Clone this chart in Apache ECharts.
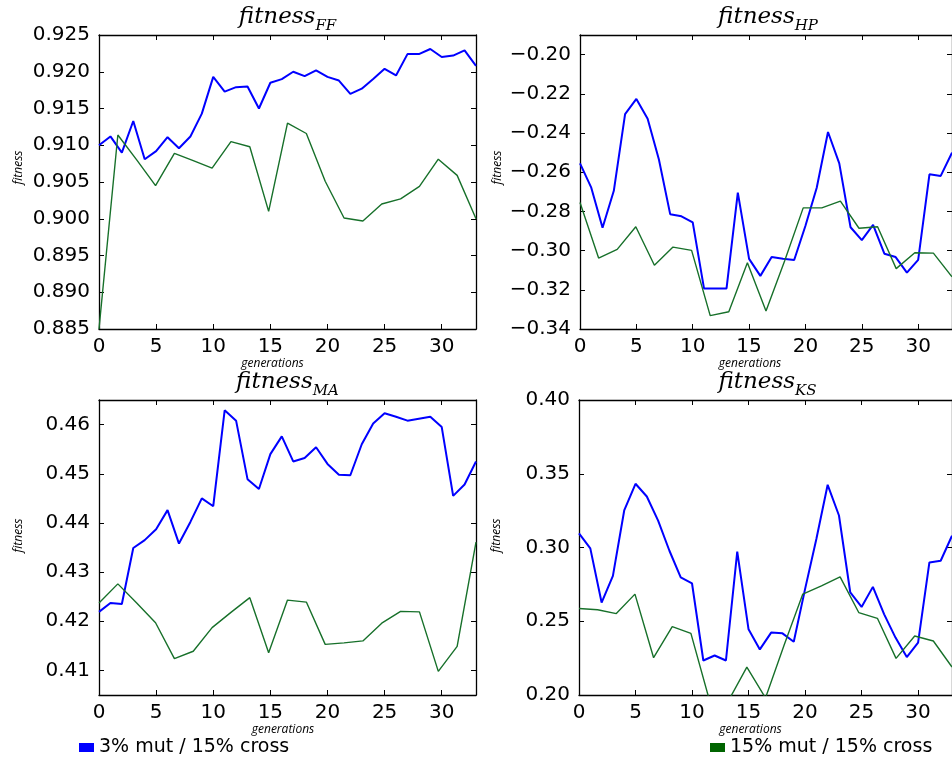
<!DOCTYPE html>
<html>
<head>
<meta charset="utf-8">
<script src="https://cdn.jsdelivr.net/npm/echarts@6/dist/echarts.min.js"></script>
<style>
html, body { margin: 0; padding: 0; background: #fff; }
#chart { width: 952px; height: 762px; }
</style>
</head>
<body>
<div id="chart"></div>
<script>
// generations where each run was sampled
var blueGens = [0, 1, 2, 3, 4, 5, 6, 7, 8, 9, 10, 11, 12, 13, 14, 15, 16, 17, 18, 19, 20, 21, 22, 23, 24, 25, 26, 27, 28, 29, 30, 31, 32, 33];
var greenGens = [0, 1.65, 3.3, 4.95, 6.6, 8.25, 9.9, 11.55, 13.2, 14.85, 16.5, 18.15, 19.8, 21.45, 23.1, 24.75, 26.4, 28.05, 29.7, 31.35, 33];

var blueName = '3% mut / 15% cross';
var greenName = '15% mut / 15% cross';

// fitness_FF
var ffBlue = [0.9100, 0.9112, 0.9090, 0.9133, 0.9081, 0.9092, 0.9111, 0.9096, 0.9112, 0.9143, 0.9193, 0.9173, 0.9179, 0.9180, 0.9150, 0.9185, 0.9190, 0.9200, 0.9194, 0.9202, 0.9193, 0.9188, 0.9170, 0.9177, 0.9190, 0.9204, 0.9195, 0.9224, 0.9224, 0.9231, 0.9220, 0.9222, 0.9229, 0.9208];
var ffGreen = [0.8850, 0.9114, 0.9080, 0.9045, 0.9089, 0.9079, 0.9069, 0.9105, 0.9098, 0.9010, 0.9130, 0.9116, 0.9051, 0.9001, 0.8997, 0.9020, 0.9027, 0.9044, 0.9081, 0.9059, 0.9000];

// fitness_HP
var hpBlue = [-0.2555, -0.2679, -0.2883, -0.2695, -0.2304, -0.2226, -0.2327, -0.2535, -0.2814, -0.2825, -0.2856, -0.3193, -0.3193, -0.3193, -0.2704, -0.3042, -0.3129, -0.3033, -0.3042, -0.3048, -0.2873, -0.2679, -0.2395, -0.2555, -0.2881, -0.2947, -0.2869, -0.3016, -0.3033, -0.3112, -0.3047, -0.2611, -0.2619, -0.2500];
var hpGreen = [-0.2755, -0.3038, -0.2994, -0.2878, -0.3075, -0.2982, -0.2999, -0.3332, -0.3312, -0.3062, -0.3308, -0.3053, -0.2782, -0.2782, -0.2748, -0.2886, -0.2878, -0.3092, -0.3011, -0.3013, -0.3134];

// fitness_MA
var maBlue = [0.4219, 0.4237, 0.4235, 0.4349, 0.4365, 0.4387, 0.4426, 0.4358, 0.4402, 0.4450, 0.4434, 0.4629, 0.4608, 0.4489, 0.4469, 0.4540, 0.4576, 0.4525, 0.4532, 0.4554, 0.4520, 0.4498, 0.4497, 0.4560, 0.4602, 0.4623, 0.4616, 0.4608, 0.4612, 0.4616, 0.4595, 0.4455, 0.4478, 0.4525];
var maGreen = [0.4237, 0.4276, 0.4237, 0.4197, 0.4124, 0.4139, 0.4187, 0.4218, 0.4248, 0.4136, 0.4243, 0.4239, 0.4153, 0.4156, 0.4160, 0.4196, 0.4220, 0.4219, 0.4098, 0.4149, 0.4361];

// fitness_KS
var ksBlue = [0.3096, 0.2994, 0.2627, 0.2808, 0.3251, 0.3432, 0.3346, 0.3182, 0.2978, 0.2797, 0.2756, 0.2234, 0.2268, 0.2234, 0.2972, 0.2445, 0.2309, 0.2423, 0.2418, 0.2361, 0.2718, 0.3058, 0.3425, 0.3217, 0.2695, 0.2597, 0.2733, 0.2547, 0.2389, 0.2257, 0.2355, 0.2899, 0.2910, 0.3080];
var ksGreen = [0.2586, 0.2578, 0.2552, 0.2684, 0.2253, 0.2464, 0.2418, 0.1962, 0.1958, 0.2189, 0.1980, 0.2339, 0.2684, 0.2740, 0.2801, 0.2559, 0.2520, 0.2248, 0.2400, 0.2366, 0.2190];

var xTicks = { min: 0, max: 33, interval: 5 };

var minus = function(v, d) {
    return (v < 0 ? '\u2212' : '') + Math.abs(v).toFixed(d);
};

var panels = [
    { sub: 'FF', blue: ffBlue, green: ffGreen, grid: { left: 99, top: 35, width: 377, height: 294 },
      yMin: 0.885, yMax: 0.925, yInterval: 0.005, digits: 3, titleX: 287.5, titleTop: 6,
      xNamePad: [0, 30, 0, 0], yNamePad: [0, 0, 0, 29], yNameGap: 74, hideMax: false },
    { sub: 'HP', blue: hpBlue, green: hpGreen, grid: { left: 580, top: 35, width: 376, height: 294 },
      yMin: -0.34, yMax: -0.19, yInterval: 0.02, digits: 2, titleX: 768, titleTop: 6,
      xNamePad: [0, 32, 0, 0], yNamePad: [0, 0, 0, 29], yNameGap: 76, hideMax: true },
    { sub: 'MA', blue: maBlue, green: maGreen, grid: { left: 99, top: 400, width: 377, height: 295 },
      yMin: 0.405, yMax: 0.465, splitNumber: 6, digits: 2, titleX: 287.5, titleTop: 371,
      xNamePad: [0, 9, 0, 0], yNamePad: [0, 0, 0, 24], yNameGap: 74, hideMax: true },
    { sub: 'KS', blue: ksBlue, green: ksGreen, grid: { left: 579, top: 400, width: 377, height: 295 },
      yMin: 0.20, yMax: 0.40, yInterval: 0.05, digits: 2, titleX: 767.5, titleTop: 371,
      xNamePad: [0, 30, 0, 0], yNamePad: [0, 0, 0, 24], yNameGap: 76, hideMax: false }
];

var zip = function(xs, ys) {
    return ys.map(function(y, i) { return [xs[i], y]; });
};

var frame = { onZero: false, lineStyle: { color: '#000', width: 1.3 } };
var tick = { inside: true, length: 5, lineStyle: { color: '#000', width: 1 } };
var labelFont = { fontFamily: 'DejaVu Sans', fontSize: 20, color: '#000' };
var nameFont = { fontFamily: 'Open Sans', fontStyle: 'italic', fontSize: 12, color: '#000' };
var titleA = { fontFamily: 'DejaVu Serif', fontStyle: 'italic', fontWeight: 'normal', fontSize: 23, lineHeight: 28, verticalAlign: 'top', color: '#000' };
var titleB = { fontFamily: 'DejaVu Serif', fontStyle: 'italic', fontWeight: 'normal', fontSize: 15, lineHeight: 14, verticalAlign: 'bottom', color: '#000' };

var option = {
    animation: false,
    backgroundColor: '#fff',
    title: [],
    grid: [],
    xAxis: [],
    yAxis: [],
    series: [],
    legend: [
        { data: [blueName], left: 79, top: 738, padding: 0, icon: 'rect', itemWidth: 15, itemHeight: 9,
          textStyle: { fontFamily: 'DejaVu Sans', fontSize: 19, color: '#000' } },
        { data: [greenName], left: 710, top: 738, padding: 0, icon: 'rect', itemWidth: 15, itemHeight: 9,
          textStyle: { fontFamily: 'DejaVu Sans', fontSize: 19, color: '#000' } }
    ]
};

panels.forEach(function(p, i) {
    option.grid.push(p.grid);

    option.title.push({
        text: '{a|fitness}{b|' + p.sub + '}',
        left: p.titleX, top: p.titleTop, textAlign: 'center', padding: 0,
        textStyle: { fontWeight: 'normal', rich: { a: titleA, b: titleB } }
    });

    var fmt = function(v) { return minus(v, p.digits); };

    // bottom / top x axes
    option.xAxis.push({
        type: 'value', gridIndex: i, position: 'bottom',
        min: xTicks.min, max: xTicks.max, interval: xTicks.interval,
        axisLine: frame, axisTick: tick, splitLine: { show: false },
        axisLabel: Object.assign({ showMaxLabel: false, margin: 8 }, labelFont),
        name: 'generations', nameLocation: 'middle', nameGap: 25,
        nameTextStyle: Object.assign({ padding: p.xNamePad }, nameFont)
    });
    option.xAxis.push({
        type: 'value', gridIndex: i, position: 'top',
        min: xTicks.min, max: xTicks.max, interval: xTicks.interval,
        axisLine: frame, axisTick: tick, splitLine: { show: false },
        axisLabel: { show: false }
    });

    // left / right y axes
    var yBase = { type: 'value', gridIndex: i, min: p.yMin, max: p.yMax,
        axisLine: frame, axisTick: tick, splitLine: { show: false } };
    if (p.yInterval) {
        yBase.interval = p.yInterval;
    } else {
        yBase.splitNumber = p.splitNumber;
    }
    option.yAxis.push(Object.assign({}, yBase, {
        position: 'left',
        axisLabel: Object.assign({ showMinLabel: !!p.yInterval, showMaxLabel: !p.hideMax, margin: 9, formatter: fmt }, labelFont),
        name: 'fitness', nameLocation: 'middle', nameGap: p.yNameGap,
        nameTextStyle: Object.assign({ padding: p.yNamePad }, nameFont)
    }));
    option.yAxis.push(Object.assign({}, yBase, {
        position: 'right',
        axisLabel: { show: false }
    }));

    option.series.push({
        type: 'line', name: blueName, xAxisIndex: 2 * i, yAxisIndex: 2 * i,
        data: zip(blueGens, p.blue), symbol: 'none', color: '#0000ff',
        lineStyle: { width: 2 }, clip: true
    });
    option.series.push({
        type: 'line', name: greenName, xAxisIndex: 2 * i, yAxisIndex: 2 * i,
        data: zip(greenGens, p.green), symbol: 'none', color: '#006400',
        lineStyle: { color: '#17702a', width: 1.4 }, clip: true
    });
});

var chart = echarts.init(document.getElementById('chart'));
chart.setOption(option);
</script>
</body>
</html>
